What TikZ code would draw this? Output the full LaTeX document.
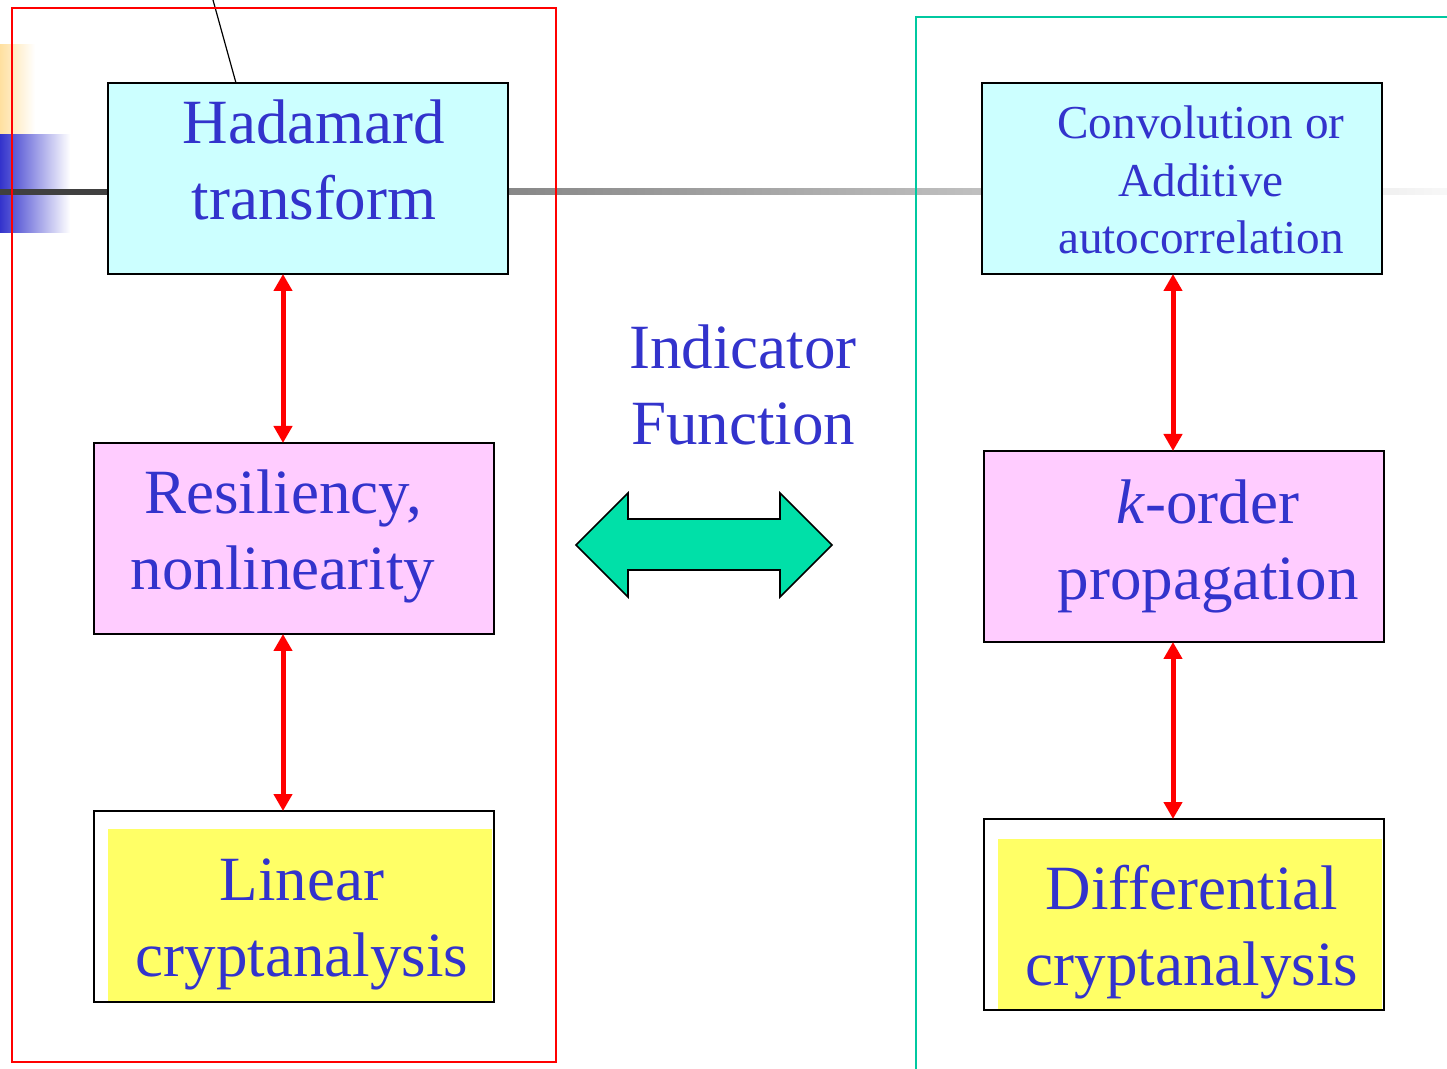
\documentclass[tikz,border=0pt]{standalone}
\usepackage{fontspec}
\setmainfont{Liberation Serif}
\usetikzlibrary{arrows.meta}
\definecolor{textblue}{RGB}{51,51,204}
\definecolor{boxcyan}{RGB}{204,255,255}
\definecolor{boxpink}{RGB}{255,204,255}
\definecolor{boxyellow}{RGB}{255,255,102}
\definecolor{arrowgreen}{RGB}{0,224,168}
\definecolor{frameteal}{RGB}{0,200,160}
\definecolor{barorange}{RGB}{255,224,160}
\definecolor{linegray}{RGB}{64,64,64}

\tikzset{
  box/.style={draw, line width=1.3pt, minimum width=200pt, minimum height=95.5pt, inner sep=0pt, outer sep=0pt},
  bigtext/.style={text=textblue, align=center, anchor=base, inner sep=0pt, font=\fontsize{31.5}{38}\selectfont},
  smalltext/.style={text=textblue, align=center, anchor=base, inner sep=0pt, font=\fontsize{23.6}{28.75}\selectfont},
  link/.style={red, line width=2.5pt, {Triangle[width=9pt,length=8.5pt]}-{Triangle[width=9pt,length=8.5pt]}},
}

\begin{document}
\begin{tikzpicture}[x=0.5pt, y=-0.5pt]
    \useasboundingbox (0,0) rectangle (1447,1069);
    \clip (0,0) rectangle (1447,1069);

    % Bandeau a gauche
    \shade[left color=barorange, right color=white] (0,45) rectangle (35,135);
    \shade[left color=textblue, right color=white] (0,135) rectangle (70,233);
    \fill[linegray] (0,189) rectangle (108,195);
    \shade[left color=black!47, middle color=black!13, right color=black!3] (508,189) rectangle (1447,195);

    % Boites de gauche
    \node[box, fill=boxcyan] (hadamard) at (308,178.5) {};
    \node[box, fill=boxpink] (resil) at (294,538.5) {};
    \node[box, fill=white] (linear) at (294,906.5) {};
    \fill[boxyellow] ([xshift=7pt, yshift=-9pt]linear.north west) rectangle ([xshift=-1pt]linear.south east);
    \draw[line width=1.3pt] (linear.south west) rectangle (linear.north east);

    % Boites de droite
    \node[box, fill=boxcyan] (conv) at (1182,178.5) {};
    \node[box, fill=boxpink] (korder) at (1184,546.5) {};
    \node[box, fill=white] (diff) at (1184,914.5) {};
    \fill[boxyellow] ([xshift=7pt, yshift=-10pt]diff.north west) rectangle ([xshift=-1pt]diff.south east);
    \draw[line width=1.3pt] (diff.south west) rectangle (diff.north east);

    % Fleches
    \draw[link] ([xshift=-12.5pt]hadamard.south) -- ([xshift=-5.5pt]resil.north);
    \draw[link] ([xshift=-5.5pt]resil.south) -- ([xshift=-5.5pt]linear.north);
    \draw[link] ([xshift=-4.5pt]conv.south) -- ([xshift=-5.5pt]korder.north);
    \draw[link] ([xshift=-5.5pt]korder.south) -- ([xshift=-5.5pt]diff.north);

    % Trait du haut
    \coordinate (lead) at (213,0);
    \draw[line width=0.6pt] (lead) -- ([xshift=64pt]hadamard.north west);

    % Cadres
    \draw[red, line width=0.8pt] (12,8) rectangle (556,1062);
    \draw[frameteal, line width=0.8pt] (916,1080) -- (916,17) -- (1460,17);

    % Double fleche verte
    \filldraw[fill=arrowgreen, draw=black, line width=0.8pt]
      (576,545) -- (628,493) -- (628,519) -- (780,519) -- (780,493) -- (832,545)
      -- (780,597) -- (780,570) -- (628,570) -- (628,597) -- cycle;

    % Textes
    \node[bigtext] (hadtxt) at (314,220) {Hadamard\\transform};
    \node[bigtext] (restxt) at (283,589) {Resiliency,\\nonlinearity};
    \node[bigtext] (lintxt) at (302,976) {Linear\\cryptanalysis};
    \node[smalltext] (convtxt) at (1201,254) {Convolution or\\Additive\\autocorrelation};
    \node[bigtext] (kordtxt) at (1208,600) {\textit{k}-order\\propagation};
    \node[bigtext] (difftxt) at (1192,985) {Differential\\cryptanalysis};
    \node[bigtext] (indtxt) at (743,445) {Indicator\\Function};
\end{tikzpicture}
\end{document}
